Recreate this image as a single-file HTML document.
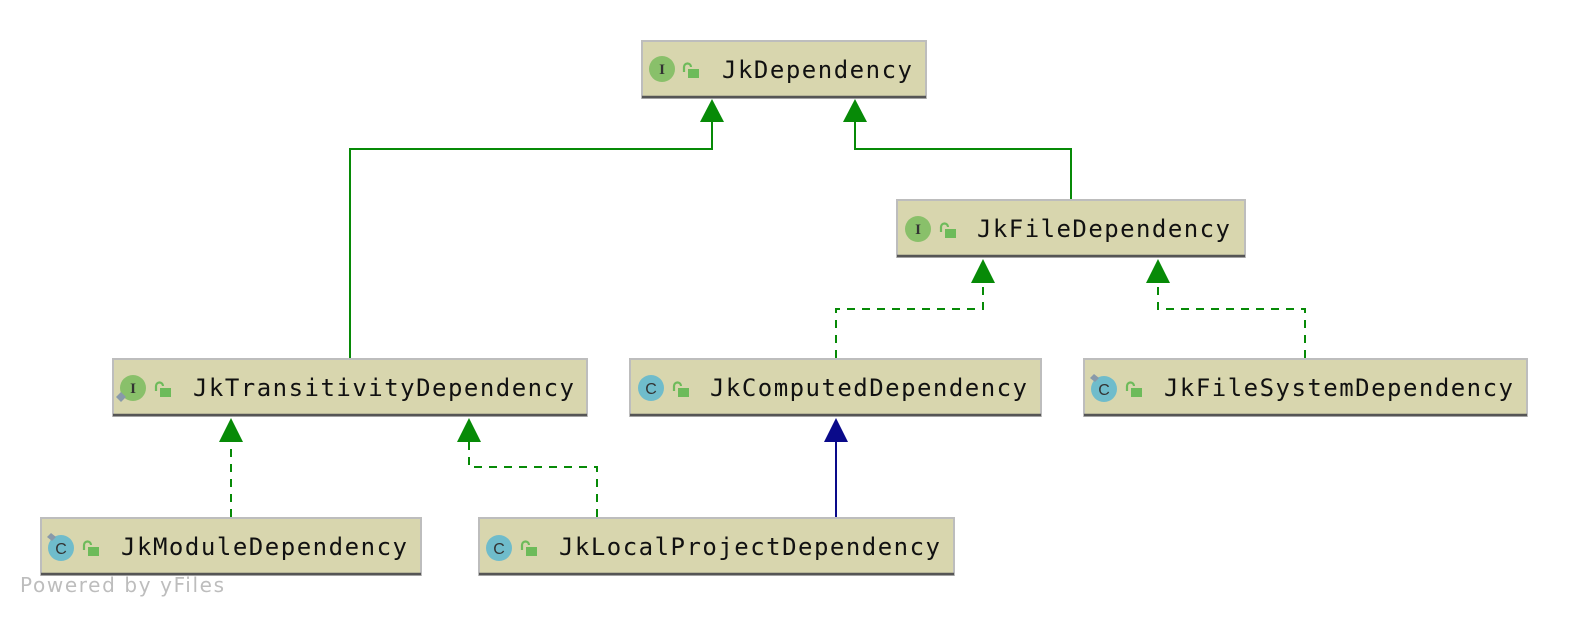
<!DOCTYPE html>
<html><head><meta charset="utf-8"><style>
html,body{margin:0;padding:0;background:#fff;}
svg{display:block;}
.bx{fill:#d8d6ae;stroke:#bdbdbd;stroke-width:2;}
.bl{stroke:#555;stroke-width:2.5;}
.t{font-family:"DejaVu Sans Mono","Liberation Mono",monospace;font-size:24px;fill:#111;}
.ic{font-family:"Liberation Serif",serif;font-size:15px;font-weight:bold;fill:#333;text-anchor:middle;}
.cc{font-family:"Liberation Sans",sans-serif;font-size:16px;fill:#333;text-anchor:middle;}
.g{stroke:#078a07;stroke-width:2;fill:none;}
.d{stroke-dasharray:8 7;}
</style></head><body>
<svg width="1576" height="620" viewBox="0 0 1576 620" xmlns="http://www.w3.org/2000/svg">
<defs>
<g id="lock"><path d="M-7,2 v-5 a3.5,3.5 0 0 1 7,0" fill="none" stroke="#6dbb5a" stroke-width="2.2"/><rect x="-3" y="-1" width="11" height="9" fill="#6dbb5a"/></g>
<g id="ifc"><circle r="13" fill="#89c06a"/><text class="ic" y="5">I</text></g>
<g id="cls"><circle r="13" fill="#6fbccb"/><text class="cc" y="6">C</text></g>
<g id="badge"><path d="M-14,-14 l4,-4 l4,4 l-4,4z" fill="#8899aa"/></g>
</defs>

<!-- edges -->
<path class="g" d="M350,358 V149 H712 V118"/>
<polygon points="712,99 700,122 724,122" fill="#078a07"/>
<path class="g" d="M1071,200 V149 H855 V118"/>
<polygon points="855,99 843,122 867,122" fill="#078a07"/>
<path class="g d" d="M836,358 V309 H983 V282"/>
<polygon points="983,259 971,283 995,283" fill="#078a07"/>
<path class="g d" d="M1305,358 V309 H1158 V282"/>
<polygon points="1158,259 1146,283 1170,283" fill="#078a07"/>
<path class="g d" d="M231,517 V440"/>
<polygon points="231,418 219,442 243,442" fill="#078a07"/>
<path class="g d" d="M597,517 V467 H469 V440"/>
<polygon points="469,418 457,442 481,442" fill="#078a07"/>
<path d="M836,517 V440" stroke="#0a0a8a" stroke-width="2" fill="none"/>
<polygon points="836,418 824,442 848,442" fill="#0a0a8a"/>

<!-- nodes -->
<rect class="bx" x="642" y="41" width="284" height="57"/><line class="bl" x1="642" y1="97" x2="926" y2="97"/>
<use href="#ifc" x="662" y="69"/><use href="#lock" x="691" y="70"/>
<text class="t" x="722" y="78" textLength="190">JkDependency</text>

<rect class="bx" x="897" y="200" width="348" height="57"/><line class="bl" x1="897" y1="256" x2="1245" y2="256"/>
<use href="#ifc" x="918" y="229"/><use href="#lock" x="948" y="230"/>
<text class="t" x="977" y="237" textLength="253">JkFileDependency</text>

<rect class="bx" x="113" y="359" width="474" height="57"/><line class="bl" x1="113" y1="415" x2="587" y2="415"/>
<use href="#ifc" x="133" y="388"/><path d="M116,397 l5,-5 l5,5 l-5,5z" fill="#8899aa"/><use href="#lock" x="163" y="389"/>
<text class="t" x="193" y="396" textLength="381">JkTransitivityDependency</text>

<rect class="bx" x="630" y="359" width="411" height="57"/><line class="bl" x1="630" y1="415" x2="1041" y2="415"/>
<use href="#cls" x="651" y="388"/><use href="#lock" x="681" y="389"/>
<text class="t" x="710" y="396" textLength="317">JkComputedDependency</text>

<rect class="bx" x="1084" y="359" width="443" height="57"/><line class="bl" x1="1084" y1="415" x2="1527" y2="415"/>
<use href="#cls" x="1104" y="389"/><path d="M1090,378 l4,-4 l5,4 l-4,4z" fill="#8899aa"/><use href="#lock" x="1134" y="389"/>
<text class="t" x="1164" y="396" textLength="349">JkFileSystemDependency</text>

<rect class="bx" x="41" y="518" width="380" height="57"/><line class="bl" x1="41" y1="574" x2="421" y2="574"/>
<use href="#cls" x="61" y="548"/><path d="M47,537 l4,-4 l5,4 l-4,4z" fill="#8899aa"/><use href="#lock" x="91" y="548"/>
<text class="t" x="121" y="555" textLength="286">JkModuleDependency</text>

<rect class="bx" x="479" y="518" width="475" height="57"/><line class="bl" x1="479" y1="574" x2="954" y2="574"/>
<use href="#cls" x="499" y="548"/><use href="#lock" x="529" y="548"/>
<text class="t" x="559" y="555" textLength="381">JkLocalProjectDependency</text>

<text x="20" y="592" font-family="'DejaVu Sans','Liberation Sans',sans-serif" font-size="20" fill="#bdbdbd" textLength="204">Powered by yFiles</text>
</svg>
</body></html>
